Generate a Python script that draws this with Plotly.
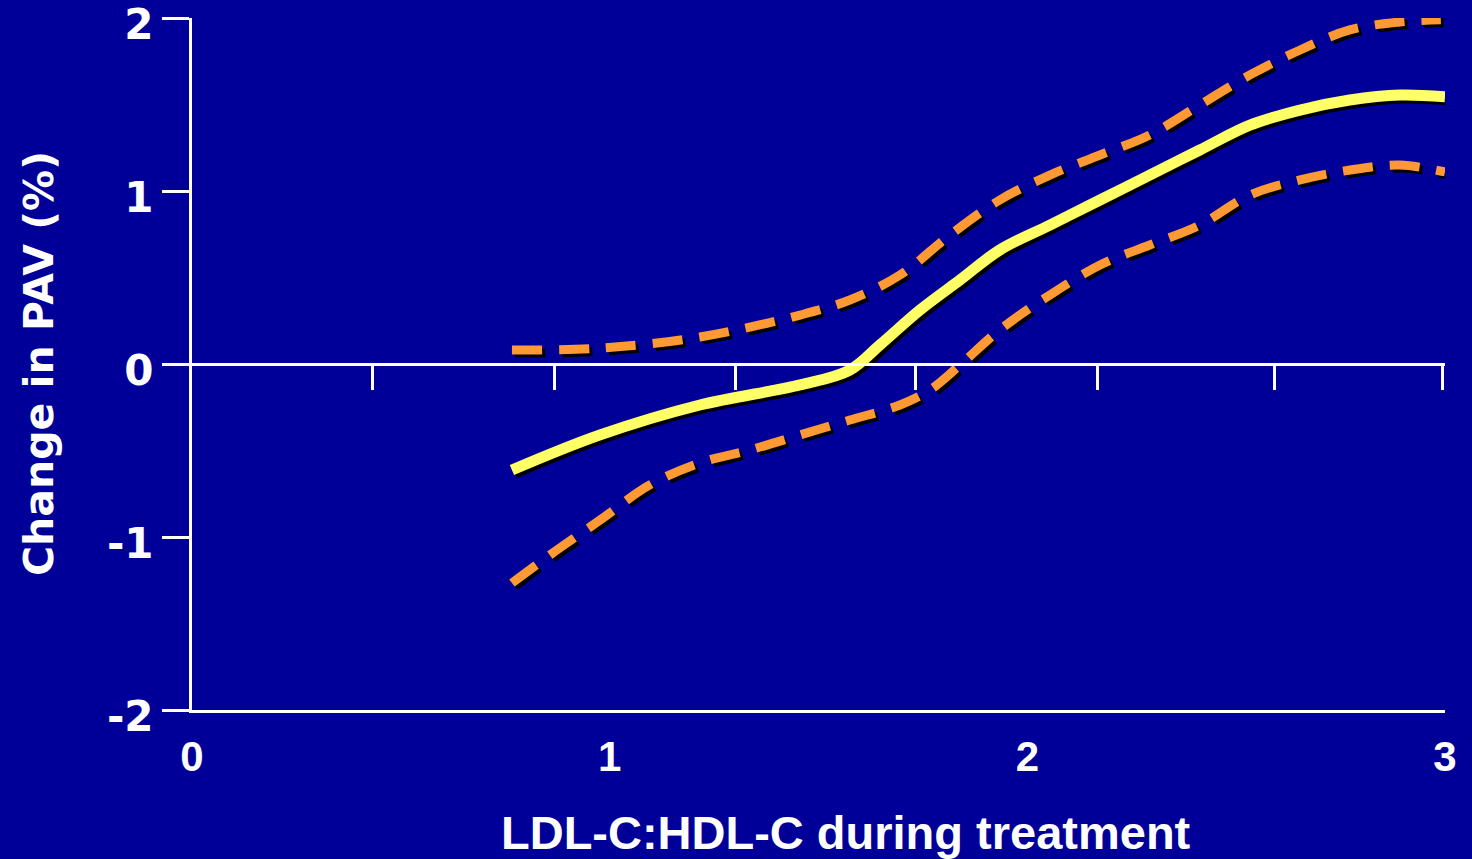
import plotly.graph_objects as go

# Data
x_vals = [0.766, 0.977, 1.216, 1.456, 1.575, 1.647, 1.743, 1.839, 1.934, 2.054,
          2.174, 2.293, 2.413, 2.533, 2.653, 2.772, 2.892, 3.0]
mean_vals = [-0.613, -0.41, -0.237, -0.121, -0.035, 0.11, 0.312, 0.486, 0.659, 0.803,
             0.948, 1.092, 1.237, 1.381, 1.468, 1.526, 1.555, 1.545]

upper_x = [0.766, 0.977, 1.216, 1.456, 1.575, 1.695, 1.815, 1.934, 2.054, 2.174,
           2.293, 2.413, 2.533, 2.653, 2.772, 2.892, 2.99]
upper_vals = [0.081, 0.092, 0.156, 0.283, 0.37, 0.514, 0.746, 0.948, 1.092, 1.208,
              1.324, 1.497, 1.671, 1.815, 1.931, 1.977, 1.99]

lower_x = [0.766, 0.857, 0.977, 1.096, 1.216, 1.336, 1.456, 1.575, 1.695, 1.767,
           1.839, 1.934, 2.054, 2.174, 2.293, 2.413, 2.533, 2.653, 2.772, 2.892, 3.0]
lower_vals = [-1.266, -1.104, -0.902, -0.699, -0.572, -0.497, -0.41, -0.324, -0.237, -0.15,
              -0.006, 0.197, 0.399, 0.572, 0.688, 0.803, 0.977, 1.064, 1.121, 1.15, 1.11]

x_ticks = [0, 1, 2, 3]
x_tick_text = ["0", "1", "2", "3"]
y_ticks = [-2, -1, 0, 1, 2]
y_tick_text = ["-2", "-1", "0", "1", "2"]
zero_line_ticks = [0.433, 0.869, 1.302, 1.733, 2.167, 2.591, 2.995]

BG = "#000099"
YELLOW = "#FFFF66"
ORANGE = "#FF9933"

W, H = 1472, 859
ML, MR, MT, MB = 192, 27, 18, 149
PW = W - ML - MR
PH = H - MT - MB
X_RANGE = [0, 3]
Y_RANGE = [-2, 2]
# shadow offset (3 px right, 3 px down) expressed in data units
DX = 3 * (X_RANGE[1] - X_RANGE[0]) / PW
DY = -3 * (Y_RANGE[1] - Y_RANGE[0]) / PH

fig = go.Figure()

def add_line(xs, ys, color, dash, width):
    fig.add_trace(go.Scatter(
        x=[v + DX for v in xs], y=[v + DY for v in ys], mode="lines",
        line=dict(color="black", width=width, dash=dash, shape="spline"),
        hoverinfo="skip", showlegend=False))
    fig.add_trace(go.Scatter(
        x=xs, y=ys, mode="lines",
        line=dict(color=color, width=width, dash=dash, shape="spline"),
        showlegend=False))

add_line(upper_x, upper_vals, ORANGE, "30px,17px", 9)
add_line(lower_x, lower_vals, ORANGE, "30px,17px", 9)
add_line(x_vals, mean_vals, YELLOW, "solid", 11)

fig.update_layout(
    template="none",
    width=W, height=H,
    margin=dict(l=ML, r=MR, t=MT, b=MB, pad=0),
    paper_bgcolor=BG, plot_bgcolor=BG,
    showlegend=False,
    xaxis=dict(
        range=X_RANGE, showgrid=False, zeroline=False, automargin=False,
        showline=True, linecolor="white", linewidth=3,
        tickmode="array", tickvals=x_ticks, ticktext=x_tick_text,
        ticks="outside", ticklen=8, tickcolor=BG,
        ticklabeloverflow="allow",
        tickfont=dict(family="Liberation Sans", size=42, color="white", weight="bold"),
    ),
    xaxis2=dict(
        range=X_RANGE, overlaying="x", anchor="free", position=0.5,
        showgrid=False, zeroline=False, automargin=False,
        showline=True, linecolor="white", linewidth=3,
        tickmode="array", tickvals=zero_line_ticks,
        ticks="outside", ticklen=24, tickwidth=3, tickcolor="white",
        showticklabels=False,
    ),
    yaxis=dict(
        range=Y_RANGE, showgrid=False, zeroline=False, automargin=False,
        showline=True, linecolor="white", linewidth=3,
        tickmode="array", tickvals=y_ticks, ticktext=y_tick_text,
        ticks="outside", ticklen=27, tickwidth=3, tickcolor="white",
        ticklabeloverflow="allow", ticklabelshift=6,
        tickfont=dict(family="DejaVu Sans", size=42, color="white", weight="bold"),
    ),
    annotations=[
        dict(text="LDL-C:HDL-C during treatment", xref="paper", yref="paper",
             x=(846 - ML) / PW, y=((H - MB) - 833) / PH,
             xanchor="center", yanchor="middle", showarrow=False,
             font=dict(family="Liberation Sans", size=47, color="white", weight="bold")),
        dict(text="Change in PAV (%)", xref="paper", yref="paper",
             x=(39 - ML) / PW, y=((H - MB) - 364) / PH, textangle=-90,
             xanchor="center", yanchor="middle", showarrow=False,
             font=dict(family="DejaVu Sans", size=41, color="white", weight="bold")),
    ],
)

fig.add_trace(go.Scatter(x=[None], y=[None], xaxis="x2", showlegend=False, hoverinfo="skip"))

fig.write_html(
    "out.html",
    config={"displayModeBar": False},
    post_script="document.body.style.margin='0';document.body.style.overflow='hidden';"
                "document.body.style.background='#000099';",
)
